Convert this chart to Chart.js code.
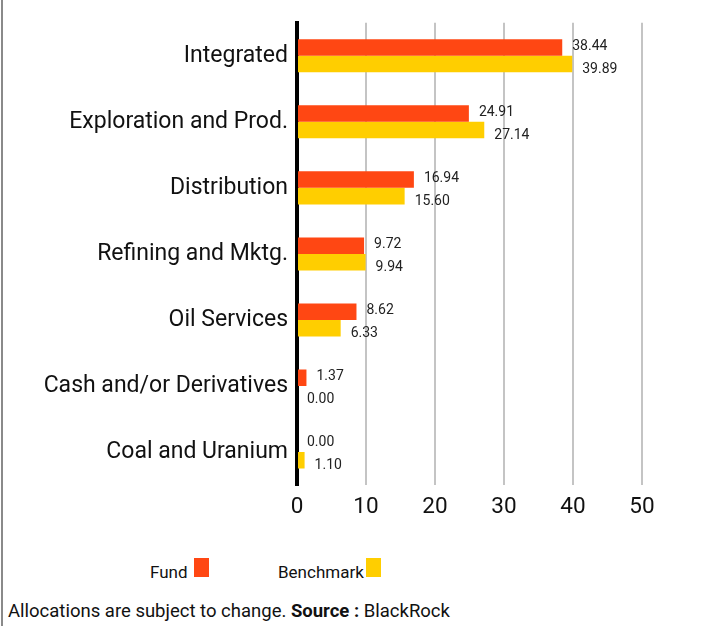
<!DOCTYPE html>
<html lang="en">
<head>
    <meta charset="UTF-8">
    <title>Sector Allocation</title>
    <script src="https://cdn.jsdelivr.net/npm/chart.js"></script>
    <style>
        body { margin: 0; background: #fff; font-family: Roboto, sans-serif; }
        .frame { position: relative; width: 718px; height: 626px; overflow: hidden; }
        .edge { position: absolute; left: 1px; top: 0; width: 2px; height: 626px; background: #8a8a8a; }
        .chart-box { position: absolute; left: 0; top: 0; width: 718px; height: 539px; }
        .legend-item { position: absolute; font-size: 17px; line-height: 19px; color: #111; }
        .legend-swatch { position: absolute; width: 15px; height: 19px; }
        .note { position: absolute; left: 8px; top: 600px; font-size: 18.5px; line-height: 22px; color: #111; white-space: nowrap; }
    </style>
</head>
<body>
<div class="frame">
    <div class="edge"></div>
    <div class="chart-box"><canvas id="sectorChart"></canvas></div>
    <div id="legend"></div>
    <div class="note">Allocations are subject to change. <b>Source :</b> BlackRock</div>
</div>

<script>
    // categorias e valores (%)
    const categories = ["Integrated", "Exploration and Prod.", "Distribution", "Refining and Mktg.",
        "Oil Services", "Cash and/or Derivatives", "Coal and Uranium"];
    const fundValues = [38.44, 24.91, 16.94, 9.72, 8.62, 1.37, 0.00];
    const benchmarkValues = [39.89, 27.14, 15.60, 9.94, 6.33, 0.00, 1.10];
    const seriesNames = ["Fund", "Benchmark"];
    const xTicks = [0, 10, 20, 30, 40, 50];

    const fundColor = "#ff4713";
    const benchColor = "#ffce00";

    // rótulos de valor à direita das barras
    const valueLabels = {
        id: "valueLabels",
        afterDatasetsDraw(chart) {
            const ctx = chart.ctx;
            ctx.save();
            ctx.font = "14px Roboto";
            ctx.fillStyle = "#222";
            ctx.textBaseline = "middle";
            ctx.textAlign = "left";
            chart.data.datasets.forEach((ds, i) => {
                const meta = chart.getDatasetMeta(i);
                const dy = i === 0 ? -1 : 5;
                meta.data.forEach((bar, j) => {
                    ctx.fillText(ds.data[j].toFixed(2), bar.x + 10, bar.y + dy);
                });
            });
            ctx.restore();
        }
    };

    new Chart(document.getElementById("sectorChart"), {
        type: "bar",
        data: {
            labels: categories,
            datasets: [
                { label: seriesNames[0], data: fundValues, backgroundColor: fundColor },
                { label: seriesNames[1], data: benchmarkValues, backgroundColor: benchColor }
            ]
        },
        options: {
            indexAxis: "y",
            responsive: true,
            maintainAspectRatio: false,
            animation: false,
            categoryPercentage: 0.5,
            barPercentage: 1.0,
            layout: { padding: { top: 14, right: 76, bottom: 10, left: 0 } },
            plugins: {
                legend: { display: false },
                tooltip: { enabled: false }
            },
            scales: {
                x: {
                    min: 0,
                    max: 50,
                    afterBuildTicks: (axis) => { axis.ticks = xTicks.map(v => ({ value: v })); },
                    grid: {
                        drawTicks: false,
                        color: (c) => c.tick && c.tick.value === 0 ? "rgba(0,0,0,0)" : "#c4c4c4",
                        lineWidth: 2
                    },
                    border: { display: false },
                    ticks: { color: "#111", padding: 8.5, font: { family: "Roboto", size: 22.5 } }
                },
                y: {
                    afterFit: (axis) => { axis.width = 297; },
                    grid: { display: false, drawTicks: false },
                    border: { display: true, color: "#000", width: 4 },
                    ticks: { color: "#111", padding: 9, font: { family: "Roboto", size: 23 } }
                }
            }
        },
        plugins: [valueLabels]
    });

    // legenda em HTML (texto antes do quadrado)
    const legendPos = [{ text: 150, box: 194 }, { text: 278, box: 366 }];
    const legendColors = [fundColor, benchColor];
    const legend = document.getElementById("legend");
    seriesNames.forEach((name, i) => {
        const t = document.createElement("div");
        t.className = "legend-item";
        t.style.left = legendPos[i].text + "px";
        t.style.top = "563px";
        t.textContent = name;
        legend.appendChild(t);
        const s = document.createElement("div");
        s.className = "legend-swatch";
        s.style.left = legendPos[i].box + "px";
        s.style.top = "558px";
        s.style.background = legendColors[i];
        legend.appendChild(s);
    });
</script>
</body>
</html>
